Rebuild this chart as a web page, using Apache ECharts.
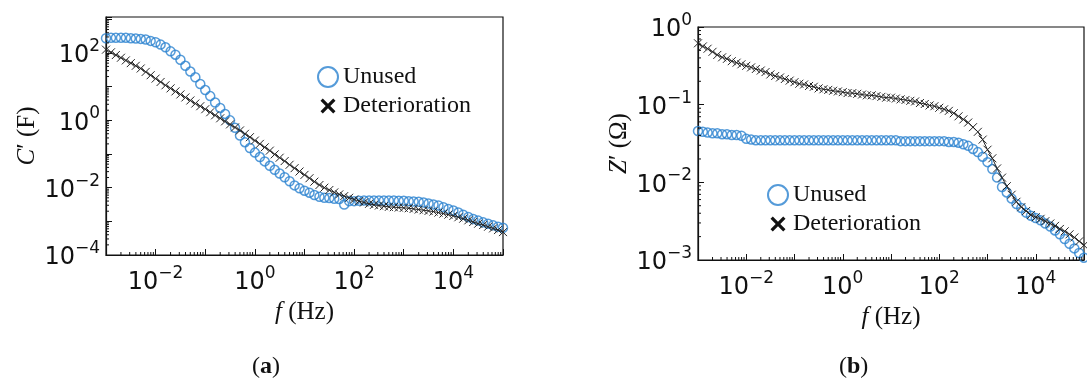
<!DOCTYPE html>
<html>
<head>
<meta charset="utf-8">
<script src="https://cdn.jsdelivr.net/npm/echarts@6.0.0/dist/echarts.min.js"></script>
<style>
  html, body { margin: 0; padding: 0; background: #fff; }
  #chart { width: 1087px; height: 383px; }
</style>
</head>
<body>
<div id="chart"></div>
<script>
// frequency grid (Hz), 10 points per decade
const freq = [
  0.001, 0.00126, 0.00158, 0.002, 0.00251, 0.00316, 0.00398, 0.00501, 0.00631, 0.00794,
  0.01, 0.0126, 0.0158, 0.02, 0.0251, 0.0316, 0.0398, 0.0501, 0.0631, 0.0794,
  0.1, 0.126, 0.158, 0.2, 0.251, 0.316, 0.398, 0.501, 0.631, 0.794,
  1, 1.26, 1.58, 2, 2.51, 3.16, 3.98, 5.01, 6.31, 7.94,
  10, 12.6, 15.8, 20, 25.1, 31.6, 39.8, 50.1, 63.1, 79.4,
  100, 126, 158, 200, 251, 316, 398, 501, 631, 794,
  1000, 1260, 1580, 2000, 2510, 3160, 3980, 5010, 6310, 7940,
  10000, 12600, 15800, 20000, 25100, 31600, 39800, 50100, 63100, 79400,
  100000
]

// (a) C' (F)
const capUnused = [
  275, 282, 282, 282, 282, 275, 269, 263, 251, 229,
  209, 178, 148, 112, 89.1, 63.1, 41.7, 28.2, 19.1, 12.0,
  7.94, 5.25, 3.39, 2.34, 1.55, 1.0, 0.603, 0.355, 0.224, 0.151,
  0.110, 0.0813, 0.0603, 0.0447, 0.0339, 0.0263, 0.0204, 0.0155, 0.0117, 0.00955,
  0.00813, 0.00708, 0.00603, 0.00537, 0.00501, 0.0049, 0.00468, 0.00457, 0.00316, 0.00398,
  0.00398, 0.00407, 0.00417, 0.00417, 0.00417, 0.00417, 0.00417, 0.00417, 0.00417, 0.00407,
  0.00407, 0.00398, 0.00389, 0.0038, 0.00363, 0.00339, 0.00316, 0.00295, 0.00263, 0.00234,
  0.00209, 0.00182, 0.00158, 0.00135, 0.00117, 0.00105, 0.000933, 0.000851, 0.000759, 0.000692,
  0.000646
]
const capDeterioration = [
  126, 105, 87.1, 72.4, 60.3, 50.1, 41.7, 34.7, 27.5, 21.9,
  17.4, 13.8, 11.0, 8.91, 7.24, 5.89, 4.79, 3.89, 3.16, 2.63,
  2.14, 1.74, 1.41, 1.15, 0.933, 0.759, 0.617, 0.501, 0.398, 0.316,
  0.251, 0.200, 0.158, 0.126, 0.0977, 0.0776, 0.0617, 0.0479, 0.038, 0.0302,
  0.024, 0.0191, 0.0151, 0.012, 0.01, 0.00851, 0.00724, 0.00631, 0.00562, 0.00501,
  0.00447, 0.00398, 0.00363, 0.00331, 0.00309, 0.00295, 0.00282, 0.00269, 0.00263, 0.00257,
  0.00251, 0.00245, 0.00234, 0.00224, 0.00214, 0.00204, 0.00195, 0.00182, 0.0017, 0.00158,
  0.00145, 0.00132, 0.0012, 0.00107, 0.000955, 0.000851, 0.000776, 0.000692, 0.000617, 0.00055,
  0.000479
]

// (b) Z' (Ohm)
const resUnused = [
  0.0457, 0.0447, 0.0437, 0.0427, 0.0427, 0.0417, 0.0417, 0.0407, 0.0407, 0.0398,
  0.0363, 0.0355, 0.0347, 0.0347, 0.0347, 0.0347, 0.0347, 0.0347, 0.0347, 0.0347,
  0.0347, 0.0347, 0.0347, 0.0347, 0.0347, 0.0347, 0.0347, 0.0347, 0.0347, 0.0347,
  0.0347, 0.0347, 0.0347, 0.0347, 0.0347, 0.0347, 0.0347, 0.0347, 0.0347, 0.0347,
  0.0347, 0.0347, 0.0339, 0.0339, 0.0339, 0.0339, 0.0339, 0.0339, 0.0339, 0.0339,
  0.0339, 0.0339, 0.0331, 0.0331, 0.0324, 0.0309, 0.0295, 0.0269, 0.0245, 0.0214,
  0.0182, 0.0148, 0.0115, 0.00871, 0.00741, 0.00617, 0.00525, 0.00468, 0.00407, 0.00372,
  0.00347, 0.00324, 0.00295, 0.00269, 0.0024, 0.00214, 0.00186, 0.00162, 0.00141, 0.00123,
  0.00107
]
const resDeterioration = [
  0.617, 0.562, 0.525, 0.479, 0.437, 0.407, 0.389, 0.363, 0.347, 0.331,
  0.316, 0.302, 0.288, 0.275, 0.263, 0.245, 0.234, 0.224, 0.214, 0.204,
  0.195, 0.186, 0.182, 0.174, 0.17, 0.162, 0.158, 0.155, 0.151, 0.148,
  0.145, 0.141, 0.141, 0.138, 0.135, 0.132, 0.132, 0.129, 0.126, 0.123,
  0.123, 0.12, 0.117, 0.115, 0.112, 0.11, 0.105, 0.102, 0.0977, 0.0955,
  0.0912, 0.0871, 0.0832, 0.0776, 0.0708, 0.0646, 0.0589, 0.0513, 0.0447, 0.0355,
  0.0263, 0.0204, 0.0151, 0.0115, 0.00891, 0.00692, 0.00562, 0.00479, 0.00427, 0.0038,
  0.00355, 0.00339, 0.00316, 0.00295, 0.00275, 0.00251, 0.00234, 0.00214, 0.00195, 0.00174,
  0.00155
]

// exponents that get a tick label
const xLabelExps = [-2, 0, 2, 4]
const yLabelExpsA = [-4, -2, 0, 2]
const yLabelExpsB = [-3, -2, -1, 0]

// log minor ticks: 2..9 times each decade
const minorSubs = [2, 3, 4, 5, 6, 7, 8, 9]
const xDecades = [-3, -2, -1, 0, 1, 2, 3, 4]
const yDecadesA = [-4, -3, -2, -1, 0, 1, 2, 3]
const yDecadesB = [-3, -2, -1]

const X_MIN = 0.001, X_MAX = 100000
const YA_MIN = 0.0001, YA_MAX = 1175
const YB_MIN = 0.001, YB_MAX = 1

const BLUE = '#2a82d0'
const DARK = '#262626'
// filled X for the legend, tiny corner specks pad it inside the icon box
const X_ICON = 'path://M0,0L0.01,0L0,0.01Z M20,20L19.99,20L20,19.99Z ' +
  'M2.5,4.8L4.8,2.5L10,7.7L15.2,2.5L17.5,4.8L12.3,10L17.5,15.2L15.2,17.5L10,12.3L4.8,17.5L2.5,15.2L7.7,10Z'
const X_MARK = 'path://M0,0L10,10M0,10L10,0'

const chart = echarts.init(document.getElementById('chart'))

function minorValues(decades, lo, hi) {
  const out = []
  decades.forEach(d => minorSubs.forEach(m => {
    const v = m * Math.pow(10, d)
    if (v > lo && v < hi) out.push(v)
  }))
  return out
}

function powLabel(shown) {
  return function (v) {
    const lg = Math.log10(v)
    const e = Math.round(lg)
    if (Math.abs(lg - e) > 1e-6 || shown.indexOf(e) < 0) return ''
    return '{b|10}{s|' + String(e).replace('-', '\u2212') + '}'
  }
}

const labelRich = {
  b: { fontFamily: 'DejaVu Sans', fontSize: 24, color: '#111', lineHeight: 30, verticalAlign: 'bottom' },
  s: { fontFamily: 'DejaVu Sans', fontSize: 17, color: '#111', lineHeight: 17, verticalAlign: 'top' }
}

const nameStyle = {
  fontFamily: 'Liberation Serif',
  fontSize: 25,
  color: '#111',
  rich: { i: { fontFamily: 'Liberation Serif', fontStyle: 'italic', fontSize: 25, color: '#111' } }
}

function logAxis(gridIndex, min, max, shown, margin, extra) {
  return Object.assign({
    type: 'log',
    logBase: 10,
    gridIndex: gridIndex,
    min: min,
    max: max,
    axisLine: { show: true, lineStyle: { color: '#111', width: 1.2 } },
    axisTick: { show: true, inside: true, length: 6, lineStyle: { color: '#111', width: 1 } },
    minorTick: { show: false },
    splitLine: { show: false },
    axisLabel: {
      formatter: powLabel(shown),
      rich: labelRich,
      margin: margin,
      showMinLabel: true,
      showMaxLabel: true,
      hideOverlap: false
    },
    nameTextStyle: nameStyle,
    nameLocation: 'middle'
  }, extra)
}

function pairs(ys) {
  return freq.map((f, i) => [f, ys[i]])
}

function circleSeries(name, idx, ys) {
  return {
    name: name,
    type: 'scatter',
    xAxisIndex: idx,
    yAxisIndex: idx,
    data: pairs(ys),
    symbol: 'circle',
    symbolSize: 9,
    itemStyle: { color: 'rgba(255,255,255,0)', borderColor: BLUE, borderWidth: 1.5 },
    z: 3
  }
}

function crossSeries(name, idx, ys) {
  return {
    name: name,
    type: 'line',
    xAxisIndex: idx,
    yAxisIndex: idx,
    data: pairs(ys),
    symbol: X_MARK,
    symbolSize: 8,
    showSymbol: true,
    lineStyle: { color: DARK, width: 1 },
    itemStyle: { color: 'rgba(0,0,0,0)', borderColor: DARK, borderWidth: 1 },
    z: 4
  }
}

// short inward minor ticks drawn through the axis scales
function minorTickSeries(idx, values, horizontal, anchor) {
  return {
    type: 'custom',
    xAxisIndex: idx,
    yAxisIndex: idx,
    silent: true,
    clip: false,
    z: 5,
    data: values.map(v => horizontal ? [v, anchor] : [anchor, v]),
    encode: { x: 0, y: 1 },
    renderItem: function (params, api) {
      const p = api.coord([api.value(0), api.value(1)])
      const shape = horizontal
        ? { x1: p[0], y1: p[1], x2: p[0], y2: p[1] - 3 }
        : { x1: p[0], y1: p[1], x2: p[0] + 3, y2: p[1] }
      return { type: 'line', shape: shape, style: { stroke: '#111', lineWidth: 1 } }
    }
  }
}

function legendAt(left, top) {
  return {
    orient: 'vertical',
    left: left,
    top: top,
    itemWidth: 20,
    itemHeight: 20,
    itemGap: 5,
    selectedMode: false,
    textStyle: { fontFamily: 'Liberation Serif', fontSize: 24, color: '#111' },
    data: [
      { name: 'Unused', icon: 'circle', itemStyle: { color: 'rgba(255,255,255,0)', borderColor: BLUE, borderWidth: 2 } },
      { name: 'Deterioration', icon: X_ICON, itemStyle: { color: '#111', borderWidth: 0 } }
    ]
  }
}

const captionStyle = {
  fontFamily: 'Liberation Serif', fontSize: 24, fontWeight: 'normal', color: '#111',
  rich: { b: { fontFamily: 'Liberation Serif', fontSize: 24, fontWeight: 'bold', color: '#111' } }
}

const option = {
  animation: false,
  backgroundColor: '#fff',
  grid: [
    { left: 106, top: 17, width: 397, height: 238, show: true, borderColor: '#111', borderWidth: 1.2, backgroundColor: 'transparent' },
    { left: 698, top: 27, width: 400, height: 233, show: true, borderColor: '#111', borderWidth: 1.2, backgroundColor: 'transparent' }
  ],
  xAxis: [
    logAxis(0, X_MIN, X_MAX, xLabelExps, 10, { name: '{i|f} (Hz)', nameGap: 38 }),
    logAxis(1, X_MIN, X_MAX, xLabelExps, 10, { name: '{i|f} (Hz)', nameGap: 38 })
  ],
  yAxis: [
    logAxis(0, YA_MIN, YA_MAX, yLabelExpsA, 6, { name: '{i|C}\u2032 (F)', nameGap: 66 }),
    logAxis(1, YB_MIN, YB_MAX, yLabelExpsB, 6, { name: '{i|Z}\u2032 (\u03a9)', nameGap: 66 })
  ],
  legend: [legendAt(312, 60), legendAt(762, 178)],
  title: [
    { text: '({b|a})', left: 247, top: 350, textStyle: captionStyle },
    { text: '({b|b})', left: 834, top: 350, textStyle: captionStyle }
  ],
  series: [
    circleSeries('Unused', 0, capUnused),
    crossSeries('Deterioration', 0, capDeterioration),
    circleSeries('Unused', 1, resUnused),
    crossSeries('Deterioration', 1, resDeterioration),
    minorTickSeries(0, minorValues(xDecades, X_MIN, X_MAX), true, YA_MIN),
    minorTickSeries(0, minorValues(yDecadesA, YA_MIN, YA_MAX), false, X_MIN),
    minorTickSeries(1, minorValues(xDecades, X_MIN, X_MAX), true, YB_MIN),
    minorTickSeries(1, minorValues(yDecadesB, YB_MIN, YB_MAX), false, X_MIN)
  ]
}

chart.setOption(option)
</script>
</body>
</html>
